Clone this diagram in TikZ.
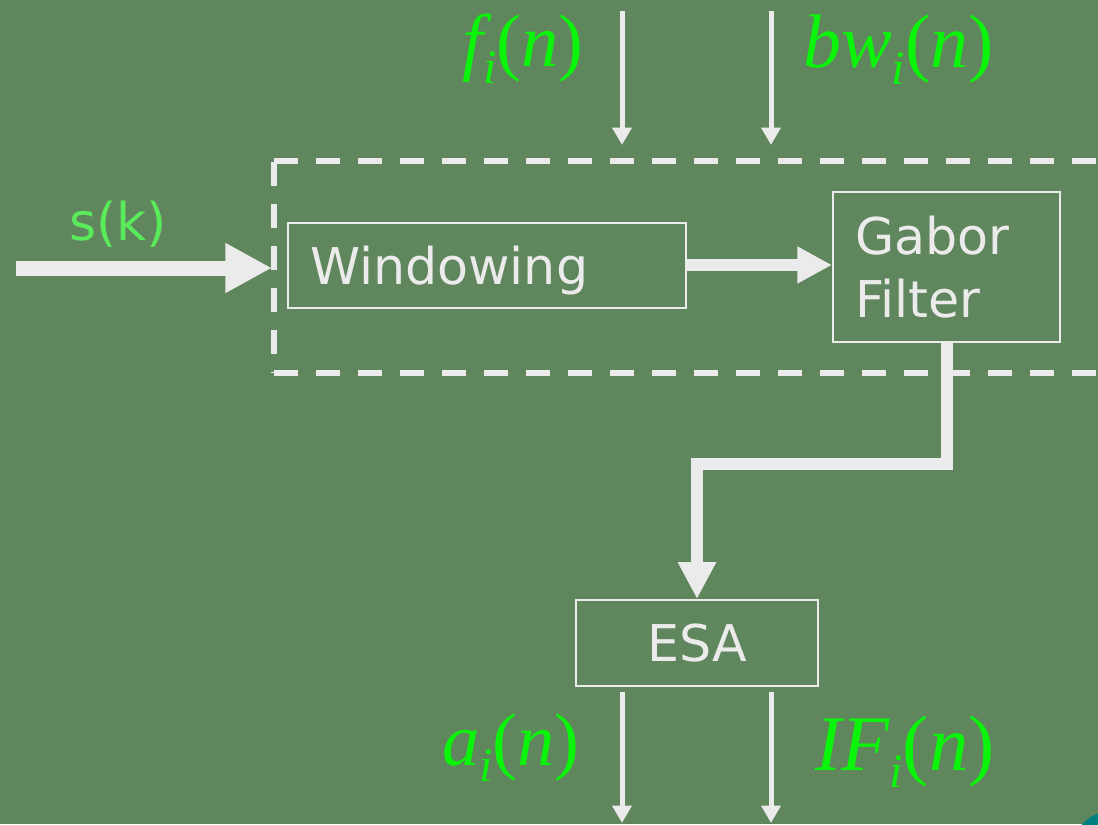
\documentclass[tikz,border=0pt]{standalone}
\usepackage{fontspec}
\setmainfont{DejaVu Sans}
\newfontfamily\serifit{Liberation Serif}
\usetikzlibrary{arrows.meta}

\definecolor{board}{RGB}{96,134,94}
\definecolor{chalk}{RGB}{235,235,235}
\definecolor{sigtext}{RGB}{10,245,10}
\definecolor{intext}{RGB}{90,235,90}
\definecolor{cornerteal}{RGB}{0,128,128}

% signal name with a lowered subscript i
\newcommand\sig[3][56]{{\serifit\fontsize{#1}{#1}\selectfont\itshape #2\raisebox{-0.22em}{\fontsize{36}{36}\selectfont i}\upshape(\itshape #3\upshape)}}

\begin{document}
\begin{tikzpicture}[x=0.75pt,y=-0.75pt,
  block/.style={draw=chalk,line width=1.5pt,text=chalk,inner sep=0pt,
    font=\fontsize{38}{47}\selectfont},
  dashbox/.style={draw=chalk,line width=4.5pt,dash pattern=on 18pt off 13.5pt},
  bigarrow/.style={draw=chalk,line width=11.25pt,-{Triangle[length=35pt,width=35pt]}},
  midarrow/.style={draw=chalk,line width=8.75pt,-{Triangle[length=26pt,width=26pt]}},
  bendarrow/.style={draw=chalk,line width=9pt,-{Triangle[length=27.75pt,width=27pt]}},
  thinarrow/.style={draw=chalk,line width=3.75pt,-{Triangle[length=13pt,width=14pt]}},
  siglabel/.style={text=sigtext,inner sep=0pt}]

% background
\fill[board] (0,0) rectangle (1098,824);
\useasboundingbox (0,0) rectangle (1098,824);
\begin{scope}
\clip (0,0) rectangle (1098,824);
\fill[cornerteal] (1110,848) circle (27.4pt);
\end{scope}

% dashed frame, open to the right
\draw[dashbox] (273.5,161) -- (1110,161);
\draw[dashbox] (273.5,162) -- (273.5,373);
\draw[dashbox] (273.5,373) -- (1110,373);

% blocks
\node[block,text width=265.5pt,inner xsep=16.5pt,align=left,minimum height=63.75pt,text depth=0pt] (win) at (487,265) {Windowing};
\node[block,text width=137.25pt,inner xsep=16.5pt,align=left,minimum height=112.5pt] (gabor) at (946.5,267) {Gabor\\Filter};
\node[block,minimum width=181.5pt,minimum height=64.5pt,text depth=0pt] (esa) at (697,643) {ESA};

% input
\coordinate (src) at (16,268);
\coordinate (gate) at (272,268);
\node[text=intext,font=\fontsize{39}{39}\selectfont,inner sep=0pt,anchor=base] (sk) at (118,240) {s(k)};
\draw[bigarrow] (src) -- (gate);

% parameters from above
\coordinate (fin) at (622,11);
\coordinate (fend) at (622,145);
\coordinate (bwin) at (771,11);
\coordinate (bwend) at (771,145);
\draw[thinarrow] (fin) -- (fend);
\draw[thinarrow] (bwin) -- (bwend);
\node[siglabel,anchor=base east] (flab) at (584,67) {\sig{f}{n}};
\node[siglabel,anchor=base west] (bwlab) at (803,68) {\sig[57]{bw}{n}};

% signal path
\coordinate (bend) at (697,464);
\draw[midarrow] (win.east) -- (win.east -| gabor.west);
\draw[bendarrow] (gabor.south) |- (bend) -- (esa.north);

% outputs
\coordinate (aout) at (622,823);
\coordinate (ifout) at (771,823);
\draw[thinarrow] ([yshift=-4pt]esa.south -| aout) -- (aout);
\draw[thinarrow] ([yshift=-4pt]esa.south -| ifout) -- (ifout);
\node[siglabel,anchor=base east] (alab) at (580,765) {\sig{a}{n}};
\node[siglabel,anchor=base west] (iflab) at (815,770) {\sig[59]{IF}{n}};

\end{tikzpicture}
\end{document}
